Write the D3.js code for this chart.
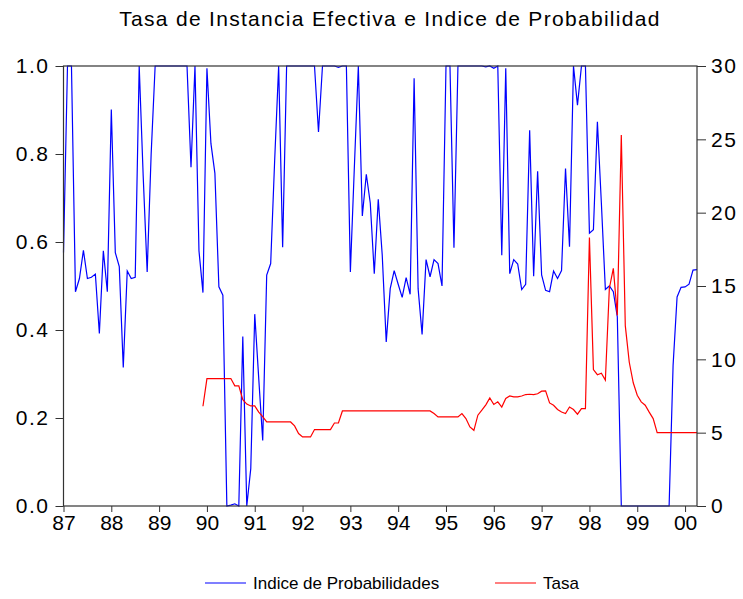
<!DOCTYPE html>
<html>
<head>
<meta charset="utf-8">
<script src="https://cdn.jsdelivr.net/npm/d3@7"></script>
<style>
  body { margin: 0; background: #fff; }
  text { font-family: "Liberation Sans", Arial, sans-serif; }
  .axis path { display: none; }
  .axis line { stroke: #333; }
  .axis text { font-size: 21px; fill: #000; }
  .axis.yaxis text { letter-spacing: 1.5px; }
</style>
</head>
<body>
<svg id="chart" width="743" height="599"></svg>
<script>

// monthly obs, 1987M01 .. 2000M04
var startYear = 1987;

var yearLabels = ["87","88","89","90","91","92","93","94","95","96","97","98","99","00"];

var leftTicks = [0, 0.2, 0.4, 0.6, 0.8, 1.0];
var rightTicks = [0, 5, 10, 15, 20, 25, 30];

// Indice de Probabilidades (left axis)
var indice = [
  0.576, 1.0, 1.0, 0.487, 0.517, 0.581, 0.517, 0.52, 0.527, 0.392, 0.58, 0.487,
  0.901, 0.576, 0.544, 0.315, 0.534, 0.517, 0.52, 1.0, 0.75, 0.532, 0.80, 1.0,
  1.0, 1.0, 1.0, 1.0, 1.0, 1.0, 1.0, 1.0, 0.77, 1.0, 0.58, 0.485,
  0.995, 0.824, 0.756, 0.498, 0.479, 0.0, 0.002, 0.005, 0.0, 0.385, 0.0, 0.085,
  0.436, 0.29, 0.149, 0.525, 0.551, 0.786, 1.0, 0.588, 1.0, 1.0, 1.0, 1.0,
  1.0, 1.0, 1.0, 1.0, 0.85, 1.0, 1.0, 1.0, 1.0, 0.997, 1.0, 1.0,
  0.532, 0.77, 1.0, 0.659, 0.754, 0.688, 0.528, 0.697, 0.57, 0.373, 0.494, 0.535,
  0.504, 0.474, 0.519, 0.481, 0.972, 0.494, 0.39, 0.56, 0.521, 0.56, 0.551, 0.5,
  1.0, 1.0, 0.587, 1.0, 1.0, 1.0, 1.0, 1.0, 1.0, 1.0, 0.998, 1.0,
  0.995, 1.0, 0.57, 0.995, 0.528, 0.56, 0.55, 0.492, 0.504, 0.854, 0.522, 0.761,
  0.525, 0.49, 0.487, 0.534, 0.517, 0.535, 0.767, 0.589, 1.0, 0.911, 1.0, 1.0,
  0.62, 0.628, 0.873, 0.688, 0.492, 0.5, 0.487, 0.43, 0.0, 0.0, 0.0, 0.0,
  0.0, 0.0, 0.0, 0.0, 0.0, 0.0, 0.0, 0.0, 0.0, 0.32, 0.475, 0.497,
  0.498, 0.504, 0.536, 0.537
];

// Tasa (right axis), starts 1989M12
var tasa = [
  null, null, null, null, null, null, null, null, null, null, null, null,
  null, null, null, null, null, null, null, null, null, null, null, null,
  null, null, null, null, null, null, null, null, null, null, null, 6.8,
  8.69, 8.69, 8.69, 8.69, 8.69, 8.69, 8.69, 8.19, 8.19, 7.25, 6.95, 6.82,
  6.82, 6.4, 6.1, 5.73, 5.73, 5.73, 5.73, 5.73, 5.73, 5.73, 5.46, 4.94,
  4.71, 4.71, 4.71, 5.21, 5.21, 5.21, 5.21, 5.21, 5.66, 5.66, 6.48, 6.48,
  6.48, 6.48, 6.48, 6.48, 6.48, 6.48, 6.48, 6.48, 6.48, 6.48, 6.48, 6.48,
  6.48, 6.48, 6.48, 6.48, 6.48, 6.48, 6.48, 6.48, 6.48, 6.3, 6.07, 6.07,
  6.07, 6.07, 6.07, 6.07, 6.3, 5.96, 5.39, 5.16, 6.19, 6.53, 6.9, 7.37,
  6.92, 7.1, 6.75, 7.33, 7.5, 7.44, 7.44, 7.5, 7.6, 7.62, 7.6, 7.65,
  7.83, 7.85, 7.03, 6.87, 6.58, 6.41, 6.3, 6.75, 6.58, 6.26, 6.64, 6.64,
  18.3, 9.3, 8.95, 9.05, 8.58, 14.85, 16.2, 13.0, 25.3, 12.3, 9.8, 8.4,
  7.55, 7.1, 6.87, 6.4, 5.96, 5.0, 5.0, 5.0, 5.0, 5.0, 5.0, 5.0,
  5.0, 5.0, 5.0, 5.0
];

var svg = d3.select("#chart");

var plotL = 63.5, plotR = 697, plotT = 66, plotB = 506;

var x = d3.scaleLinear().domain([0, indice.length - 1]).range([plotL, plotR]);
var yL = d3.scaleLinear().domain([0, 1]).range([plotB, plotT]);
var yR = d3.scaleLinear().domain([0, 30]).range([plotB, plotT]);

svg.append("text")
  .attr("x", 390)
  .attr("y", 26)
  .attr("text-anchor", "middle")
  .style("font-size", "21px")
  .style("letter-spacing", "1.3px")
  .text("Tasa de Instancia Efectiva e Indice de Probabilidad");

// axes
svg.append("g")
  .attr("class", "axis yaxis")
  .attr("transform", "translate(" + plotL + ",0)")
  .call(d3.axisLeft(yL).tickValues(leftTicks).tickFormat(d3.format(".1f"))
    .tickSize(8).tickSizeOuter(0).tickPadding(6));

svg.append("g")
  .attr("class", "axis yaxis")
  .attr("transform", "translate(" + plotR + ",0)")
  .call(d3.axisRight(yR).tickValues(rightTicks)
    .tickSize(9).tickSizeOuter(0).tickPadding(5));

var xticks = yearLabels.map(function(d, i) { return i * 12; });

svg.append("g")
  .attr("class", "axis")
  .attr("transform", "translate(0," + plotB + ")")
  .call(d3.axisBottom(x).tickValues(xticks)
    .tickFormat(function(d, i) { return yearLabels[i]; })
    .tickSize(6).tickSizeOuter(0).tickPadding(3));

// the lines
svg.append("path")
  .datum(indice)
  .attr("fill", "none")
  .attr("stroke", "#0000ff")
  .attr("stroke-width", 1.2)
  .attr("d", d3.line()
    .x(function(d, i) { return x(i); })
    .y(function(d) { return yL(d); }));

svg.append("path")
  .datum(tasa)
  .attr("fill", "none")
  .attr("stroke", "#ff0000")
  .attr("stroke-width", 1.2)
  .attr("d", d3.line()
    .defined(function(d) { return d != null; })
    .x(function(d, i) { return x(i); })
    .y(function(d) { return yR(d); }));

// frame
svg.append("rect")
  .attr("x", plotL)
  .attr("y", plotT)
  .attr("width", plotR - plotL)
  .attr("height", plotB - plotT)
  .attr("fill", "none")
  .attr("stroke", "#333")
  .attr("stroke-width", 1.2);

// legend
var legend = [
  {name: "Indice de Probabilidades", color: "#0000ff", x: 205},
  {name: "Tasa", color: "#ff0000", x: 495}
];

var lg = svg.selectAll(".legend")
  .data(legend)
  .enter().append("g")
  .attr("class", "legend")
  .attr("transform", function(d) { return "translate(" + d.x + ",583)"; });

lg.append("line")
  .attr("x1", 0).attr("x2", 41)
  .attr("y1", 0).attr("y2", 0)
  .attr("stroke", function(d) { return d.color; })
  .attr("stroke-width", 1.2);

lg.append("text")
  .attr("x", 48)
  .attr("y", 6)
  .style("font-size", "17px")
  .text(function(d) { return d.name; });

</script>
</body>
</html>
